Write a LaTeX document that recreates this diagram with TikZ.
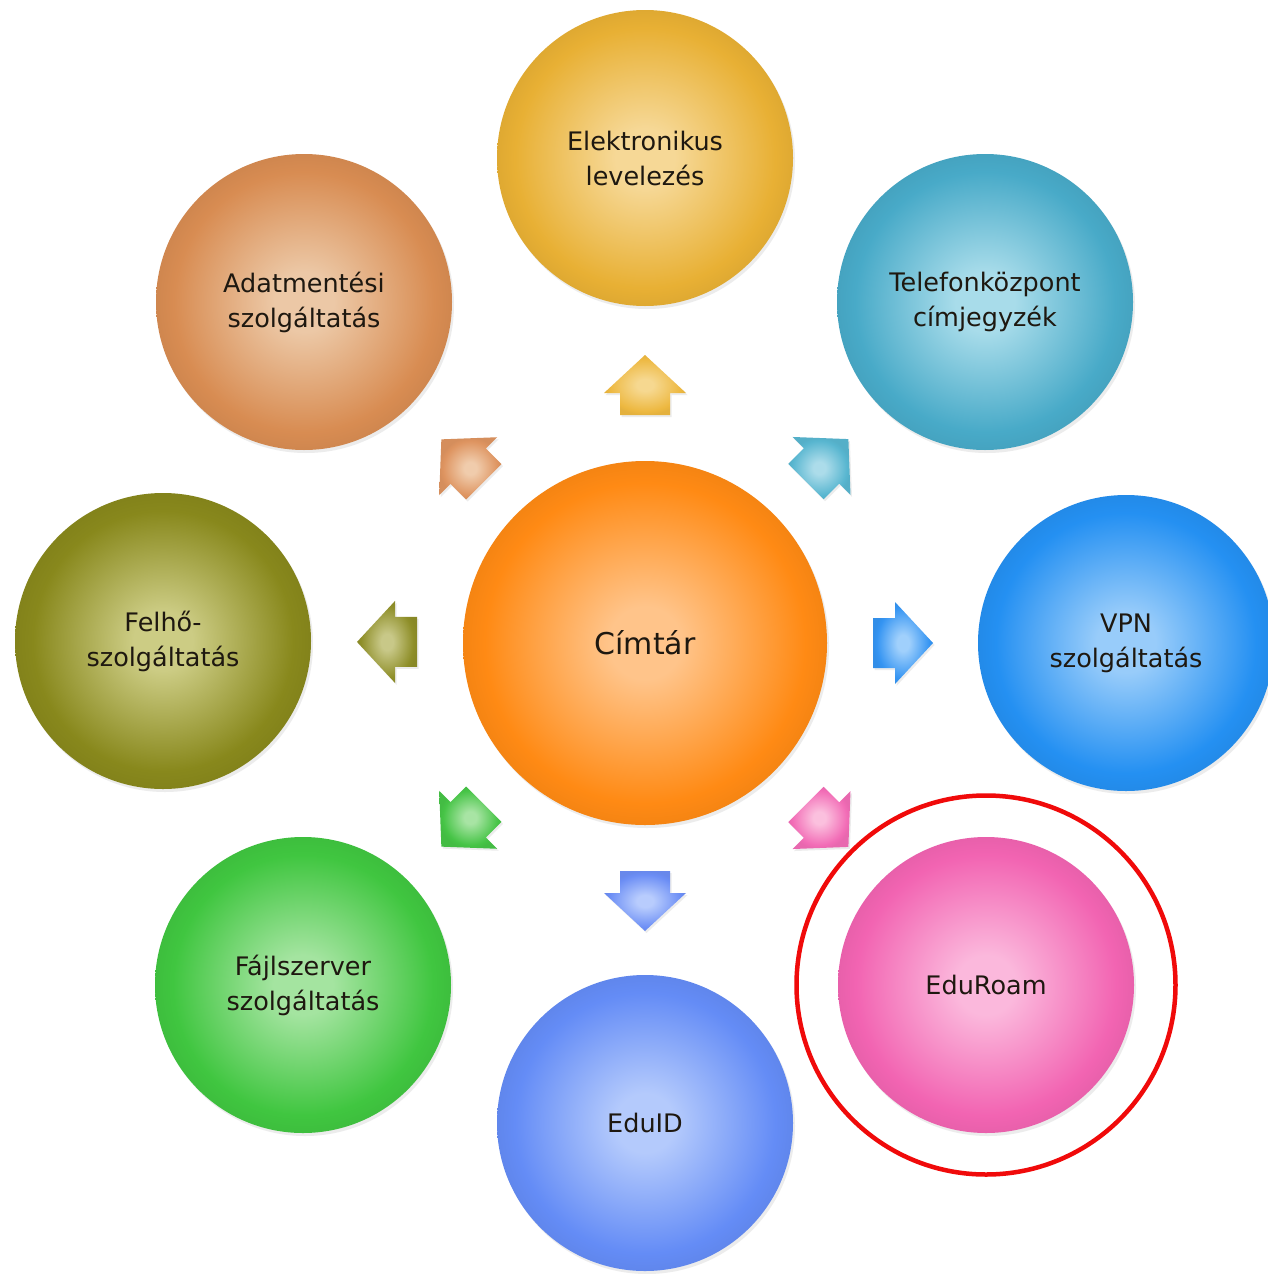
\documentclass[tikz,border=0pt]{standalone}
\usepackage{fontspec}
\setmainfont{DejaVu Sans}
\usetikzlibrary{calc,shadows}
\definecolor{ink}{HTML}{1E1810}
\definecolor{markred}{HTML}{F00A0A}
\colorlet{cA}{white}
\colorlet{cB}{gray}
\pgfdeclareradialshading[cA,cB]{glow}{\pgfpoint{0bp}{0bp}}{color(0bp)=(cA); color(5bp)=(cA); color(22bp)=(cB); color(25bp)=(cB!96!black); color(50bp)=(cB!96!black)}
\tikzset{
  tint/.style 2 args={/utils/exec={\definecolor{cA}{HTML}{#1}\definecolor{cB}{HTML}{#2}}, shade, shading=glow},
  bubble/.style={circle, inner sep=0pt, minimum size=296pt, align=center, text=ink,
    font=\fontsize{25.5}{35}\selectfont,
    drop shadow={opacity=0.15, shadow xshift=2pt, shadow yshift=-3pt}},
  hub/.style={bubble, minimum size=364pt, font=\fontsize{30}{36}\selectfont},
  marker/.style={circle, draw=markred, line width=4.5pt, minimum size=379pt, inner sep=0pt},
  arrowshade/.style={drop shadow={opacity=0.15, shadow xshift=1.5pt, shadow yshift=-2pt}}
}
\newcommand\flowarrow[4]{%
  \path[tint={#3}{#4}, arrowshade, shift={(#1)}, rotate=#2]
    (-30,-25) -- (-8,-25) -- (-8,-41) -- (30,0) -- (-8,41) -- (-8,25) -- (-30,25) -- cycle;}
\begin{document}
\begin{tikzpicture}[x=1pt,y=-1pt]
\useasboundingbox[fill=white] (0,0) rectangle (1267,1274);

\node[hub, tint={FFC48A}{FF8A14}] (cim) at (645,643) {Címtár};

\node[bubble, tint={F6D896}{E8B034}] (mail) at (645,158) {Elektronikus\\levelezés};
\node[bubble, tint={A8DCEA}{48AAC8}] (tel) at (985,302) {Telefonközpont\\címjegyzék};
\node[bubble, tint={98CCFA}{2490F2}] (vpn) at (1126,643) {VPN\\szolgáltatás};
\node[bubble, tint={FBB8DC}{F264B2}] (roam) at (986,985) {EduRoam};
\node[bubble, tint={B4CAFC}{648CF6}] (eduid) at (645,1123) {EduID};
\node[bubble, tint={A4E4A0}{40C640}] (file) at (303,985) {Fájlszerver\\szolgáltatás};
\node[bubble, tint={CCCC84}{88881C}] (felho) at (163,641) {Felhő-\\szolgáltatás};
\node[bubble, tint={ECC8A6}{D88C52}] (backup) at (304,302) {Adatmentési\\szolgáltatás};

\node[marker] (mark) at (roam) {};

\coordinate (aMail) at ($(cim)!258pt!(mail)$);
\coordinate (aTel) at ($(cim)!258pt!(tel)$);
\coordinate (aVpn) at ($(cim)!258pt!(vpn)$);
\coordinate (aRoam) at ($(cim)!258pt!(roam)$);
\coordinate (aEduid) at ($(cim)!258pt!(eduid)$);
\coordinate (aFile) at ($(cim)!258pt!(file)$);
\coordinate (aFelho) at ($(cim)!258pt!(felho)$);
\coordinate (aBackup) at ($(cim)!258pt!(backup)$);

\flowarrow{aMail}{90}{F6D890}{EDB840}
\flowarrow{aTel}{45}{ACDCEA}{58B6D0}
\flowarrow{aVpn}{0}{A0D0FC}{3494F2}
\flowarrow{aRoam}{-45}{FBC0DE}{F26CB6}
\flowarrow{aEduid}{-90}{B8CCFD}{6C8EF5}
\flowarrow{aFile}{-135}{A8E4A4}{46C446}
\flowarrow{aFelho}{180}{C8C888}{8E8E28}
\flowarrow{aBackup}{135}{F0CCAC}{DE9460}
\end{tikzpicture}
\end{document}
